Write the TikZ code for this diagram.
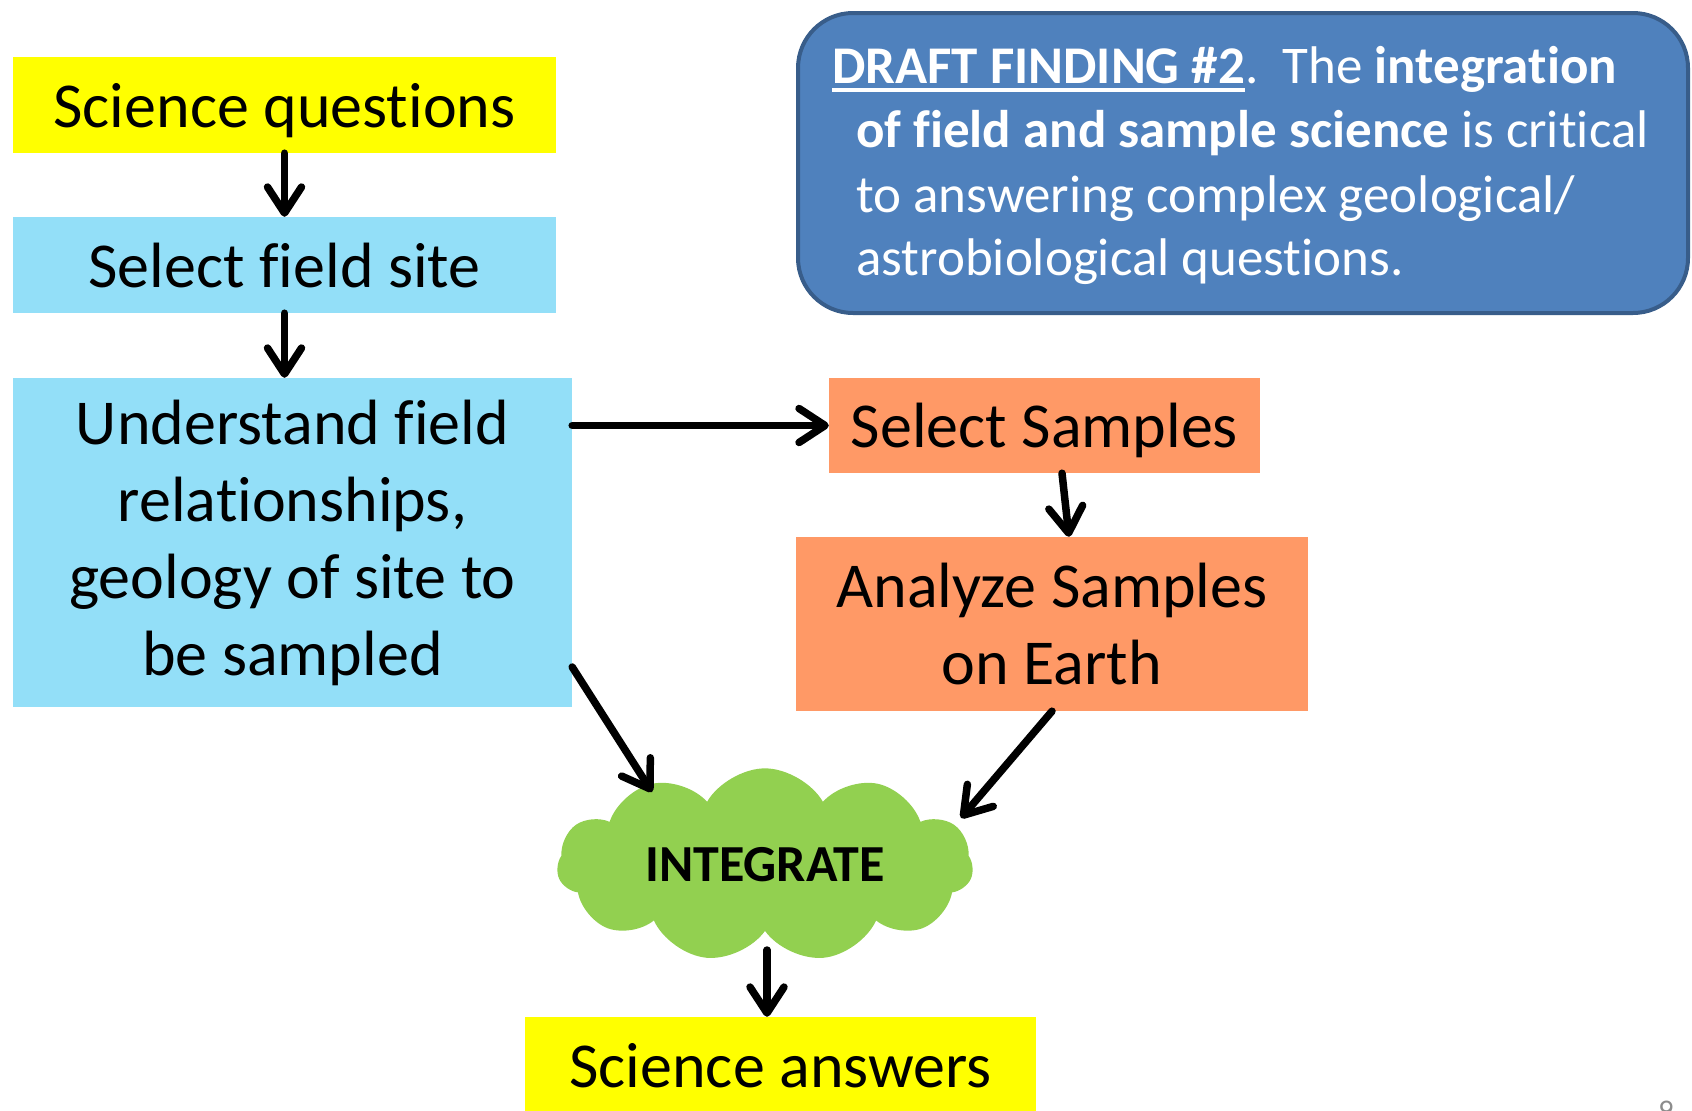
\documentclass[tikz,border=0pt]{standalone}
\usepackage{fontspec}
\setmainfont{Carlito}[Ligatures=NoCommon]
\usetikzlibrary{arrows.meta,shapes.symbols,calc}
\newcommand{\nlg}{\kern0pt{}}
\definecolor{yel}{HTML}{FFFF00}
\definecolor{lblue}{HTML}{93DFF8}
\definecolor{orng}{HTML}{FF9966}
\definecolor{grn}{HTML}{92D050}
\definecolor{bfill}{HTML}{4F81BD}
\definecolor{bborder}{HTML}{385D8A}
\definecolor{pggray}{HTML}{8C8C8C}
\begin{document}
\begin{tikzpicture}[x=1pt,y=-1pt,
  box/.style={rectangle, inner sep=0pt, align=center, font=\fontsize{64}{77}\selectfont},
  onebox/.style={box, text height=50pt, text depth=6pt},
  conn/.style={line width=7.5pt, -{Straight Barb[length=26pt,width=34pt,line cap=round,line join=round]}, line cap=round, line join=round},
  dftext/.style={anchor=base west, inner sep=0pt, text=white, font=\fontsize{53}{64}\selectfont}]
\useasboundingbox (0,0) rectangle (1692,1111);
\clip (0,0) rectangle (1692,1111);

\node[onebox, fill=yel, minimum width=543pt, minimum height=96pt] (sq) at (284.5,105) {Science quest\nlg ions};
\node[onebox, fill=lblue, minimum width=543pt, minimum height=96pt] (sfs) at (284.5,265) {Select f\nlg ield site};
\node[box, fill=lblue, minimum width=559pt, minimum height=329pt] (und) at (292.5,542.5) {Understand f\nlg ield\\relat\nlg ionships,\\geology of site to\\be sampled};
\node[onebox, fill=orng, minimum width=431pt, minimum height=95pt] (ss) at (1044.5,425.5) {Select Samples};
\node[box, fill=orng, minimum width=512pt, minimum height=174pt] (an) at (1052,624) {Analyze Samples\\on Earth};
\node[cloud, fill=grn, cloud puffs=11, cloud puff arc=120, aspect=2.35, inner sep=0pt,
      minimum width=416pt, minimum height=177pt, font=\bfseries\fontsize{52}{62}\selectfont] (cl) at (765,865) {INTEGRATE};
\node[onebox, fill=yel, minimum width=511pt, minimum height=96pt] (ans) at (780.5,1065) {Science answers};

\node[draw=bborder, line width=4pt, fill=bfill, rounded corners=55pt, minimum width=890pt, minimum height=300pt, inner sep=0pt] (df) at (1243,163) {};
\node[dftext] (df1a) at (832,83) {\textbf{DRAFT FINDING \#2}};
\node[dftext] (df1b) at (df1a.base east) {.\ \ The \textbf{integrat\nlg ion}};
\draw[white, line width=4pt] ([yshift=-7pt]df1a.base west) -- ([yshift=-7pt]df1a.base east);
\node[dftext] (df2) at (856,147) {\textbf{of f\nlg ield and sample science} is crit\nlg ical};
\node[dftext] (df3) at (856,212) {to answering complex geological/};
\node[dftext] (df4) at (856,275) {astrobiological quest\nlg ions.};

\node[anchor=north, inner sep=0pt, text=pggray, font=\fontsize{30}{36}\selectfont] (pg) at (1666,1101) {9};

\coordinate (clA) at (652,792);
\coordinate (clB) at (961,818);
\coordinate (clC) at (767,950);
\draw[conn] (sq.south) -- (sq.south |- sfs.north);
\draw[conn] (sfs.south) -- (sfs.south |- und.north);
\draw[conn] (und.east |- ss.west) -- (ss.west);
\draw[conn] ([xshift=17.5pt]ss.south) -- ([xshift=17pt]an.north);
\draw[conn] ([yshift=-124.5pt]und.east) -- (clA);
\draw[conn] (an.south) -- (clB);
\draw[conn] (clC) -- (clC |- ans.north);
\end{tikzpicture}
\end{document}
